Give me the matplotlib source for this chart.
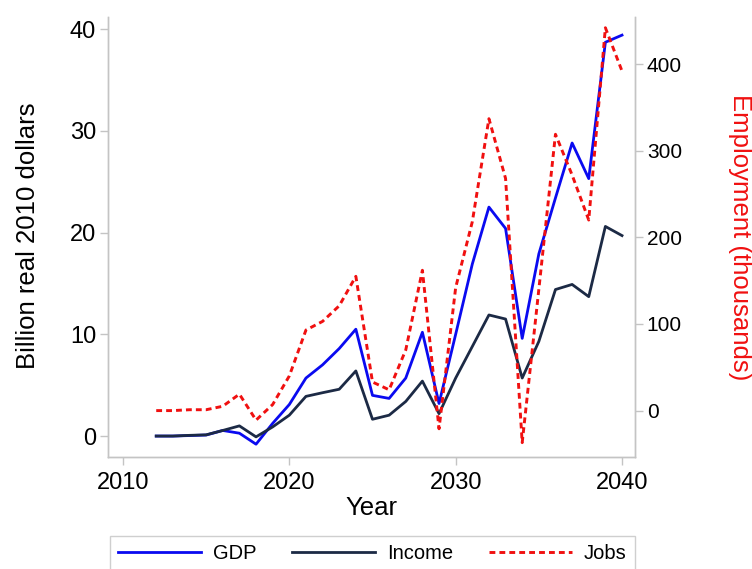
import matplotlib
matplotlib.use("Agg")
import matplotlib.pyplot as plt

plt.rcParams['font.family'] = ['Liberation Sans', 'DejaVu Sans']

years = list(range(2012, 2041))
gdp = [0.0, 0.0, 0.05, 0.1, 0.55, 0.28, -0.8, 1.25, 3.1, 5.7, 7.0, 8.6, 10.5,
       4.0, 3.7, 5.7, 10.2, 3.2, 10.0, 16.9, 22.5, 20.4, 9.6, 17.9, 23.4,
       28.8, 25.3, 38.7, 39.4]
income = [0.0, 0.0, 0.07, 0.12, 0.55, 1.0, -0.08, 0.9, 2.05, 3.9, 4.26, 4.6, 6.4,
          1.65, 2.05, 3.4, 5.4, 2.2, 5.7, 8.8, 11.9, 11.5, 5.7, 9.3, 14.4,
          14.9, 13.7, 20.6, 19.7]
jobs = [0, 0, 1, 1, 5, 19, -11, 7, 40, 93, 103, 121, 155,
        33, 24, 70, 162, -21, 142, 218, 337, 268, -37, 140, 319,
        272, 220, 442, 392]

left_ticks = [0, 10, 20, 30, 40]
right_ticks = [0, 100, 200, 300, 400]
x_ticks = [2010, 2020, 2030, 2040]

fig = plt.figure(figsize=(7.52, 5.69), dpi=100)
ax = fig.add_axes([0.1436, 0.1968, 0.8444 - 0.1436, 0.9701 - 0.1968])
ax2 = ax.twinx()

spine_c = '#c4c4c4'
red = '#f01010'
l1, = ax.plot(years, gdp, color='#0a0af0', lw=2.0, label='GDP')
l2, = ax.plot(years, income, color='#1c2a45', lw=2.0, label='Income')
l3, = ax2.plot(years, jobs, color=red, lw=2.1, linestyle=(0, (2.0, 1.4)), label='Jobs')

ax.set_xlim(2009.1, 2040.78)
ax.set_ylim(-2.06, 41.18)
ax2.set_ylim(-53.6, 454.4)

ax.set_xticks(x_ticks)
ax.set_yticks(left_ticks)
ax2.set_yticks(right_ticks)

for a in (ax, ax2):
    for s in a.spines.values():
        s.set_color(spine_c)
        s.set_linewidth(1.0)
    a.spines['top'].set_visible(False)
    a.tick_params(colors=spine_c, labelcolor='black', length=5.5, width=1.0, pad=3)
ax.tick_params(axis='both', labelsize=17)
ax.tick_params(axis='x', pad=5)
ax2.tick_params(axis='y', labelsize=15)

ax.set_xlabel('Year', fontsize=18.5)
ax.set_ylabel('Billion real 2010 dollars', fontsize=18.5)
ax2.set_ylabel('Employment (thousands)', fontsize=18.5, color=red, rotation=270)

ax.xaxis.label.set_va('center')
ax.xaxis.set_label_coords(0.499, -0.116)
ax.yaxis.label.set_va('center')
ax.yaxis.label.set_ha('center')
ax.yaxis.set_label_coords(-0.152, 0.502)
ax2.yaxis.label.set_va('center')
ax2.yaxis.label.set_ha('center')
ax2.yaxis.set_label_coords(1.199, 0.50)

leg = fig.legend(handles=[l1, l2, l3], labels=['GDP', 'Income', 'Jobs'],
                 loc='upper center', bbox_to_anchor=(0.4953, 1 - 536 / 569),
                 ncol=3, fontsize=14.5, frameon=True, fancybox=False,
                 handlelength=4.1, columnspacing=1.8, handletextpad=0.6,
                 borderpad=0.4, borderaxespad=0, edgecolor=spine_c)
leg.get_frame().set_linewidth(1.0)

fig.savefig('out.png', dpi=100)
